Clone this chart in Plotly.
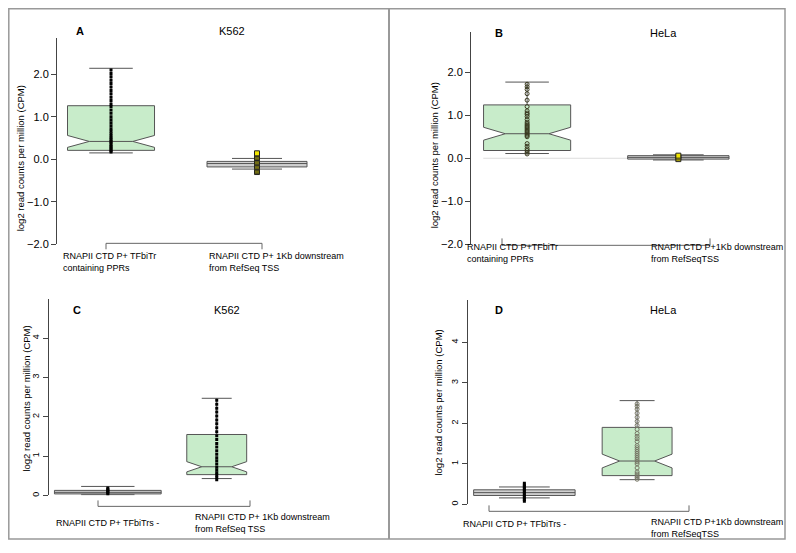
import plotly.graph_objects as go

# the page has an 8px body margin, so the figure is 16px smaller than the window
OFF = 8
W, H = 796 - 2 * OFF, 553 - 2 * OFF

# ---- data ----
panels = ["A", "B", "C", "D"]
cell_lines = ["K562", "HeLa", "K562", "HeLa"]

cat_labels = {
    "A": ["RNAPII CTD P+ TFbiTr<br>containing PPRs", "RNAPII CTD P+ 1Kb downstream<br>from RefSeq TSS"],
    "B": ["RNAPII CTD P+TFbiTr<br>containing PPRs", "RNAPII CTD P+1Kb downstream<br>from RefSeqTSS"],
    "C": ["RNAPII CTD P+ TFbiTrs -", "RNAPII CTD P+ 1Kb downstream<br>from RefSeq TSS"],
    "D": ["RNAPII CTD P+ TFbiTrs -", "RNAPII CTD P+1Kb downstream<br>from RefSeqTSS"],
}

# box stats per panel: [first box, second box]
lowerfence = {"A": [0.15, -0.23], "B": [0.11, -0.04], "C": [0.02, 0.43], "D": [0.16, 0.61]}
q1 = {"A": [0.21, -0.18], "B": [0.18, -0.02], "C": [0.04, 0.53], "D": [0.22, 0.71]}
median = {"A": [0.42, -0.10], "B": [0.57, 0.02], "C": [0.08, 0.73], "D": [0.29, 1.07]}
q3 = {"A": [1.26, -0.05], "B": [1.24, 0.06], "C": [0.13, 1.55], "D": [0.36, 1.90]}
upperfence = {"A": [2.14, 0.02], "B": [1.77, 0.08], "C": [0.23, 2.47], "D": [0.43, 2.56]}
notchspan = {"A": [0.14, 0.0], "B": [0.15, 0.0], "C": [0.0, 0.13], "D": [0.0, 0.17]}

# individual points drawn over the boxes
a_ppr_pts = [0.17, 0.2, 0.23, 0.27, 0.3, 0.34, 0.38, 0.42, 0.46, 0.5, 0.55, 0.6, 0.66, 0.72,
             0.79, 0.86, 0.93, 1.0, 1.08, 1.16, 1.24, 1.3, 1.38, 1.46, 1.54, 1.62, 1.7, 1.78,
             1.86, 1.94, 2.02, 2.1]
a_tss_pts = [-0.3, -0.27, -0.24, -0.21, -0.18, -0.15, -0.12, -0.09, -0.06, -0.03, 0.0, 0.03,
             0.06, 0.09, 0.12, 0.14]
b_ppr_pts = [0.1, 0.14, 0.18, 0.22, 0.28, 0.34, 0.5, 0.53, 0.56, 0.59, 0.62, 0.65, 0.68, 0.71,
             0.74, 0.77, 0.8, 0.84, 0.9, 0.97, 1.02, 1.05, 1.1, 1.2, 1.35, 1.5, 1.6, 1.66, 1.72]
b_tss_pts = [-0.02, 0.02, 0.06]
c_neg_pts = [0.04, 0.07, 0.1, 0.13, 0.16, 0.19]
c_tss_pts = [0.4, 0.46, 0.52, 0.58, 0.65, 0.72, 0.8, 0.88, 0.96, 1.05, 1.14, 1.23, 1.32, 1.42,
             1.52, 1.62, 1.72, 1.82, 1.92, 2.02, 2.12, 2.22, 2.32, 2.42]
d_neg_pts = [0.08, 0.12, 0.16, 0.2, 0.24, 0.28, 0.32, 0.36, 0.4, 0.44, 0.48, 0.52]
d_tss_pts = [0.62, 0.66, 0.7, 0.75, 0.8, 0.9, 1.0, 1.05, 1.1, 1.15, 1.2, 1.25, 1.3, 1.35, 1.4,
             1.45, 1.55, 1.62, 1.68, 1.75, 1.85, 1.95, 2.05, 2.15, 2.25, 2.35, 2.42, 2.48]
points = {"A": [a_ppr_pts, a_tss_pts], "B": [b_ppr_pts, b_tss_pts],
          "C": [c_neg_pts, c_tss_pts], "D": [d_neg_pts, d_tss_pts]}

y_ticks = {"A": [-2, -1, 0, 1, 2], "B": [-2, -1, 0, 1, 2], "C": [0, 1, 2, 3, 4], "D": [0, 1, 2, 3, 4]}

# ---- layout geometry (window pixels) ----
geo = {
    # x px domain, x range, y px (top, bottom), y range, box widths
    "A": dict(xpx=(57, 330), xr=(-0.37, 1.5), ypx=(38, 247), yr=(-2, 2.86), bw=(0.596, 0.685)),
    "B": dict(xpx=(471, 760), xr=(-0.371, 1.54), ypx=(32, 247), yr=(-2, 2.94), bw=(0.576, 0.67)),
    "C": dict(xpx=(49, 330), xr=(-0.54, 2.04), ypx=(302, 501), yr=(0, 5.0), bw=(0.98, 0.55)),
    "D": dict(xpx=(468, 760), xr=(-0.5, 2.09), ypx=(303, 510), yr=(0, 5.05), bw=(0.9, 0.62)),
}


def px(x):
    return (x - OFF) / W


def py(y):
    return 1 - (y - OFF) / H


GREEN = "#c8ecca"
GREY_FILL = "#d0d0d0"
FONT = "Liberation Sans, Arial, sans-serif"

fig = go.Figure()
layout = dict(width=W, height=H, margin=dict(l=0, r=0, t=0, b=0),
              paper_bgcolor="white", plot_bgcolor="white", showlegend=False,
              font=dict(family=FONT, color="black"))
annotations = []
shapes = []

for i, p in enumerate(panels):
    g = geo[p]
    n = "" if i == 0 else str(i + 1)
    xa, ya = "x" + n, "y" + n
    for k in range(2):
        green = (p in ("A", "B") and k == 0) or (p in ("C", "D") and k == 1)
        fig.add_trace(go.Box(
            x=[k], q1=[q1[p][k]], median=[median[p][k]], q3=[q3[p][k]],
            lowerfence=[lowerfence[p][k]], upperfence=[upperfence[p][k]],
            notched=bool(notchspan[p][k]), notchspan=[notchspan[p][k]] if notchspan[p][k] else None,
            notchwidth=0.25, width=g["bw"][k], whiskerwidth=0.5,
            fillcolor=GREEN if green else GREY_FILL,
            line=dict(color="#555555", width=1),
            boxpoints=False, hoverinfo="skip", xaxis=xa, yaxis=ya))
    # points
    for k in range(2):
        yy = points[p][k]
        yellow = p in ("A", "B") and k == 1
        hollow = (p == "B" and k == 0) or (p == "D" and k == 1)
        if yellow:
            mk = dict(symbol="square", size=5, color="#f2e600", line=dict(color="#222222", width=1))
        elif hollow:
            mk = dict(symbol="circle-open", size=4,
                      color="#3a3a20" if p == "B" else "#777766", line=dict(width=1))
        else:
            mk = dict(symbol="square", size=3, color="black")
        fig.add_trace(go.Scatter(x=[k] * len(yy), y=yy, mode="markers", marker=mk,
                                 hoverinfo="skip", xaxis=xa, yaxis=ya))

    top_pair = p in ("A", "B")
    layout["xaxis" + n] = dict(domain=[px(g["xpx"][0]), px(g["xpx"][1])], range=list(g["xr"]),
                               visible=False, anchor=ya)
    layout["yaxis" + n] = dict(
        domain=[py(g["ypx"][1]), py(g["ypx"][0])], range=list(g["yr"]), anchor=xa,
        showline=True, linecolor="#444444", linewidth=1, ticks="outside", ticklen=5,
        tickcolor="#444444", tickvals=y_ticks[p], showgrid=False, zeroline=False,
        tickformat=".1f" if top_pair else "d",
        tickangle=0 if top_pair else -90,
        tickfont=dict(size=11 if top_pair else 9, family=FONT, color="black"))

# titles, panel letters, y titles, category labels
letter_px = {"A": (80, 31), "B": (499, 33), "C": (77, 313), "D": (499, 313)}
cell_px = {"A": (232, 31), "B": (663, 33), "C": (227, 313), "D": (663, 313)}
ytitle_px = {"A": (20, 160), "B": (434, 157), "C": (27, 403), "D": (439, 407)}
# (shift from box center, top y px) for each category label
lab_pos = {"A": [(-50, 252), (-50, 252)], "B": [(-62, 243), (-29, 243)],
           "C": [(-54, 522), (-24, 516)], "D": [(-63, 523), (12, 521)]}
bracket_px = {"A": (106, 262, 246, 252), "B": (502, 710, 248, 241),
              "C": (98, 250, 512, 506), "D": (489, 689, 517, 511)}

for i, p in enumerate(panels):
    n = "" if i == 0 else str(i + 1)
    annotations.append(dict(text="<b>%s</b>" % p, x=px(letter_px[p][0]), y=py(letter_px[p][1]),
                            xref="paper", yref="paper", xanchor="center", yanchor="middle",
                            showarrow=False, font=dict(size=11, family=FONT)))
    annotations.append(dict(text=cell_lines[i], x=px(cell_px[p][0]), y=py(cell_px[p][1]),
                            xref="paper", yref="paper", xanchor="center", yanchor="middle",
                            showarrow=False, font=dict(size=11, family=FONT)))
    annotations.append(dict(text="log2 read counts per million (CPM)", textangle=-90,
                            x=px(ytitle_px[p][0]), y=py(ytitle_px[p][1]),
                            xref="paper", yref="paper", xanchor="center", yanchor="middle",
                            showarrow=False, font=dict(size=9.5, family=FONT)))
    for k in range(2):
        sh, ty = lab_pos[p][k]
        annotations.append(dict(text=cat_labels[p][k], x=k, xref="x" + n, xshift=sh,
                                xanchor="left", align="left", y=py(ty), yref="paper",
                                yanchor="top", showarrow=False,
                                font=dict(size=9, family=FONT)))
    x0, x1, yb, yt = bracket_px[p]
    for sx0, sy0, sx1, sy1 in [(x0, yb, x1, yb), (x0, yb, x0, yt), (x1, yb, x1, yt)]:
        shapes.append(dict(type="line", xref="paper", yref="paper", x0=px(sx0), y0=py(sy0),
                           x1=px(sx1), y1=py(sy1), line=dict(color="#666666", width=1)))

# faint zero line in panel B
shapes.append(dict(type="line", xref="x2", yref="y2", x0=-0.29, x1=1.34, y0=0, y1=0,
                   line=dict(color="#dddddd", width=1), layer="below"))

# outer frame and divider
shapes.append(dict(type="rect", xref="paper", yref="paper", x0=px(8.8), x1=px(785),
                   y0=py(545), y1=py(8.8), line=dict(color="#999999", width=1.5)))
shapes.append(dict(type="line", xref="paper", yref="paper", x0=px(389), x1=px(389),
                   y0=py(545), y1=py(8.8), line=dict(color="#999999", width=2)))

layout["annotations"] = annotations
layout["shapes"] = shapes
fig.update_layout(**layout)
fig.write_html("out.html")
